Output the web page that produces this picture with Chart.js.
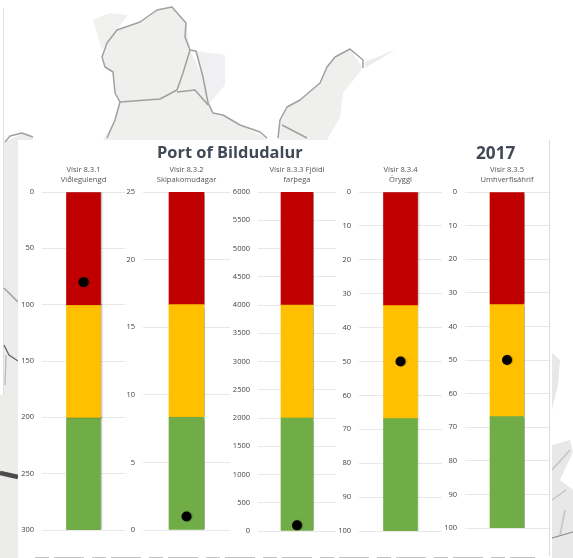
<!DOCTYPE html>
<html><head><meta charset="utf-8">
<style>
html,body{margin:0;padding:0;background:#fff;width:573px;height:558px;overflow:hidden;font-family:"Open Sans",sans-serif}
#bg,#panel,.c,.t{position:absolute}
#bg{left:0;top:0;filter:blur(.7px)}
#panel{left:18px;top:140px;width:531px;height:416px;background:#fff;border-right:1px solid #dcdcdc}
.c{filter:blur(.35px)}
.t{font-weight:700;color:#404a56;font-size:16.4px;line-height:20px;white-space:nowrap;font-family:"Open Sans",sans-serif;filter:blur(.3px)}
</style>
<script src="https://cdn.jsdelivr.net/npm/chart.js@4"></script>
</head><body>
<svg id="bg" width="573" height="558" fill="none">
<path d="M102 57 107 43 117 30 140 22 157 10 172 7 186 23 190 50 203 77 213 113 223 115 240 125 267 138V145H100L115 120 120 102 115 93 113 72 105 67Z" fill="#efefed"/>
<path d="M93 20 110 13 128 15 117 30 107 43 102 50Z" fill="#f0f0ee"/>
<path d="M196 51 225 55 225 85 208 105Z" fill="#f0f0f2"/>
<path d="M363 68 350 49 335 57 327 67 320 83 300 100 287 107 280 120 278 140H327L340 117 343 93Z" fill="#efefed"/>
<path d="M365 62 397 49 365 68Z" fill="#ececec"/>
<path d="M5 142 22 134 33 137 33 145 18 145 18 558H0V142Z" fill="#ececea"/>
<path d="M0 8H3V395H0Z" fill="#fff"/>
<path d="M3.5 8V395" stroke="#dedede" stroke-width="1"/>
<g stroke="#a0a0a0" stroke-width="1.5" stroke-linejoin="round">
<path d="M102 57 107 43 117 30 140 22 157 10 172 7 186 23 185 37 190 50 183 73 177 90 160 99 120 102 115 93 113 72 105 67Z"/>
<path d="M190 50 196 51 203 77 208 103 213 113 223 115 240 125 260 132 267 138"/>
<path d="M177 92 195 90 208 105"/>
<path d="M120 102 115 120 107 138"/>
<path d="M363 68 363 60 350 49 335 57 327 67 320 83 300 100 287 107 280 120 278 138"/>
<path d="M282 125 307 138"/>
<path d="M5 142 10 136 22 133 33 137"/>
<path d="M4 288 18 302"/>
</g>
<path d="M4 345 9 355 18 361" stroke="#666" stroke-width="1.3"/>
<path d="M6 355 5 385" stroke="#bbb" stroke-width="1.3"/>
<path d="M0 473 18 477" stroke="#4a4a4c" stroke-width="4.5"/>
<path d="M552 353 560 360 558 385 552 410ZM552 445 570 440 573 452 560 480 573 490 573 558 552 558Z" fill="#e8e8e8"/>
<path d="M552 538 573 532" stroke="#888" stroke-width="1.2"/>
<path d="M552 500 566 490M552 470 570 450M560 535 565 510" stroke="#c4c4c4" stroke-width="1.5"/>
<path d="M35 557.6H535" stroke="#bbb" stroke-width="1" stroke-dasharray="14 5 30 8"/>
</svg>
<div id="panel"></div>
<div class="t" style="left:157px;top:142px">Port of Bildudalur</div>
<div class="t" style="left:476px;top:143px;font-size:17.2px">2017</div>
<canvas class="c" id="c1"></canvas><canvas class="c" id="c2"></canvas><canvas class="c" id="c3"></canvas><canvas class="c" id="c4"></canvas><canvas class="c" id="c5"></canvas>
<script>
const titles=[["Vísir 8.3.1","Viðlegulengd"],["Vísir 8.3.2","Skipakomudagar"],["Vísir 8.3.3 Fjöldi","farþega"],["Vísir 8.3.4","Öryggi"],["Vísir 8.3.5","Umhverfisáhrif"]];
const axisMax=[300,25,6000,100,100];
const axisStep=[50,5,500,10,10];
const reversedAxis=[true,false,false,true,true];
const redBand=[100,8.33,2000,33.33,33.33];
const yellowBand=[100,8.33,2000,33.33,33.33];
const greenBand=[100,8.34,2000,33.34,33.34];
const markerValue=[80,1,100,50,50];
const RED="#c00000",YEL="#ffc000",GRN="#70ad47";
// layout: canvas left, plot-left, plot-right, plot-bottom
const frames=[[0,42,125,530],[100,143,230,530],[210,258,336,531],[320,359,442,531],[425,465,549,528]];
const barW=[34,35,32,34,34];
const shadow={id:"shadow",beforeDatasetsDraw(c){c.ctx.save();c.ctx.shadowColor="rgba(0,0,0,.3)";c.ctx.shadowBlur=1.5;c.ctx.shadowOffsetX=1;c.ctx.shadowOffsetY=0;},afterDatasetsDraw(c){c.ctx.restore();}};
frames.forEach((f,i)=>{
 const cv=document.getElementById("c"+(i+1));
 const top=160,h=f[3]-top+8,w=f[2]-f[0];
 cv.style.left=f[0]+"px";cv.style.top=top+"px";cv.style.width=w+"px";cv.style.height=h+"px";
 const rev=reversedAxis[i];
 const bands=rev?[[redBand[i],RED],[yellowBand[i],YEL],[greenBand[i],GRN]]:[[greenBand[i],GRN],[yellowBand[i],YEL],[redBand[i],RED]];
 const ds=bands.map(b=>({type:"bar",data:[b[0]],backgroundColor:b[1],barThickness:barW[i],order:2}));
 ds.push({type:"line",data:[markerValue[i]],showLine:false,pointRadius:5,pointBackgroundColor:"#000",pointBorderWidth:0,order:1});
 new Chart(cv,{data:{labels:[""],datasets:ds},plugins:[shadow],options:{
  responsive:false,animation:false,devicePixelRatio:1,
  layout:{autoPadding:false,padding:{top:0,bottom:8,left:0,right:0}},
  plugins:{legend:{display:false},tooltip:{enabled:false},
   title:{display:true,fullSize:false,text:titles[i],color:"#555",font:{size:7.6,family:"'Open Sans',sans-serif",weight:"normal",lineHeight:1.316},padding:{top:5,bottom:7}}},
  scales:{
   x:{display:false,stacked:true},
   y:{stacked:true,reverse:rev,min:0,max:axisMax[i],
      afterFit(s){s.width=f[1]-f[0];s.paddingTop=0;s.paddingBottom=0;},
      border:{display:false},
      grid:{color:"#e8e8e8",lineWidth:1,drawTicks:false},
      ticks:{stepSize:axisStep[i],color:"#444",padding:8,callback:v=>String(v),font:{size:7.5,family:"'Open Sans',sans-serif"}}}
  }}});
});
</script>
</body></html>
